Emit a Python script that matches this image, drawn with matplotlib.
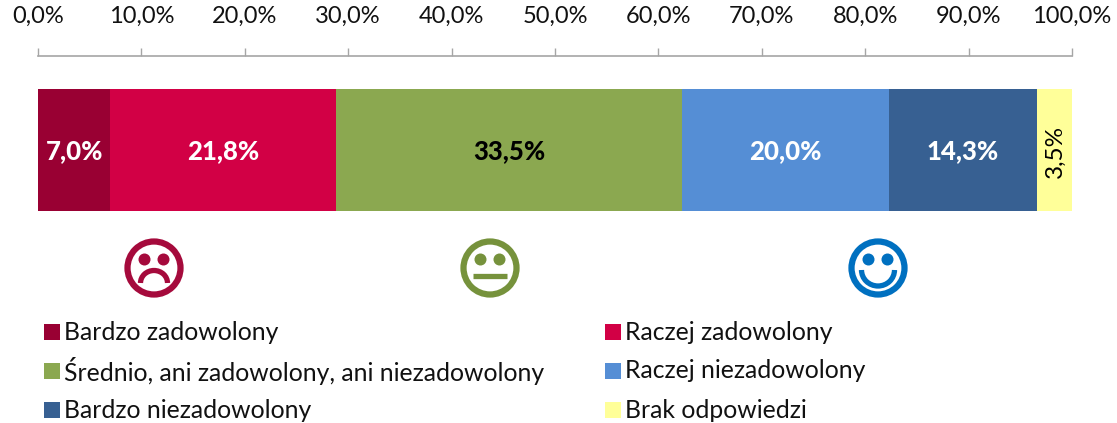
import matplotlib
matplotlib.use('Agg')
import matplotlib.pyplot as plt
from matplotlib.patches import Circle, Arc, Rectangle

plt.rcParams['font.family'] = ['Lato', 'DejaVu Sans']

categories = ['Bardzo zadowolony', 'Raczej zadowolony', 'Średnio, ani zadowolony, ani niezadowolony',
              'Raczej niezadowolony', 'Bardzo niezadowolony', 'Brak odpowiedzi']
values = [7.0, 21.8, 33.5, 20.0, 14.3, 3.5]
labels = ['7,0%', '21,8%', '33,5%', '20,0%', '14,3%', '3,5%']
colors = ['#990033', '#D20045', '#8BA850', '#558ED5', '#376092', '#FFFF99']
label_colors = ['white', 'white', 'black', 'white', 'white', 'black']
ticks = list(range(0, 101, 10))
tick_labels = [f'{t},0%' for t in ticks]

W, H = 1117, 423
fig = plt.figure(figsize=(W / 100, H / 100), dpi=100)
x0, x1 = 38, 1072
ax = fig.add_axes([x0 / W, 1 - 211 / H, (x1 - x0) / W, (211 - 56) / H])
ax.set_xlim(0, 100)
ax.set_ylim(155, 0)
left = 0
for v, c, lab, lc in zip(values, colors, labels, label_colors):
    ax.barh(94, v, left=left, height=122, color=c, linewidth=0)
    vertical = v < 5
    ax.text(left + v / 2, 95.5, lab, ha='center', va='center', color=lc, fontsize=17.5 if vertical else 18.5,
            fontweight='normal' if vertical else 'black', rotation=90 if vertical else 0)
    left += v
ax.set_yticks([])
for s in ['left', 'right', 'bottom']:
    ax.spines[s].set_visible(False)
ax.spines['top'].set_color('#a6a6a6')
ax.spines['top'].set_linewidth(1.2)
ax.xaxis.tick_top()
ax.set_xticks(ticks, tick_labels, fontsize=17, color='#111111')
ax.tick_params(axis='x', direction='out', length=6, width=1.0, color='#a6a6a6', pad=15)

ov = fig.add_axes([0, 0, 1, 1])
ov.set_xlim(0, W)
ov.set_ylim(H, 0)
ov.axis('off')
ov.patch.set_alpha(0)

def face(cx, cy, col, kind):
    ov.add_patch(Circle((cx, cy), 26.5, fill=False, ec=col, lw=4.5))
    for dx in (-9.5, 9.5):
        ov.add_patch(Circle((cx + dx, cy - 8.5), 6, fc=col, ec='none'))
    if kind == 'sad':
        ov.add_patch(Arc((cx, cy + 15), 27, 25, theta1=180, theta2=360, ec=col, lw=3.8))
    elif kind == 'neutral':
        ov.plot([cx - 17, cx + 17], [cy + 8.5, cy + 8.5], color=col, lw=3.8, solid_capstyle='butt')
    else:
        ov.add_patch(Arc((cx, cy + 2), 33, 32, theta1=0, theta2=180, ec=col, lw=3.8))

face(154, 268, '#A50A3C', 'sad')
face(490, 268, '#76923C', 'neutral')
face(878, 268, '#0070C0', 'happy')

xs = [44, 605]
ys = [332, 371, 410]
for i, (cat, c) in enumerate(zip(categories, colors)):
    lx, ly = xs[i % 2], ys[i // 2]
    ov.add_patch(Rectangle((lx, ly - 8), 16, 16, fc=c, ec='none'))
    ov.text(lx + 20, ly, cat, va='center', ha='left', fontsize=17.8, color='#111111')

fig.savefig('out.png', dpi=100)
